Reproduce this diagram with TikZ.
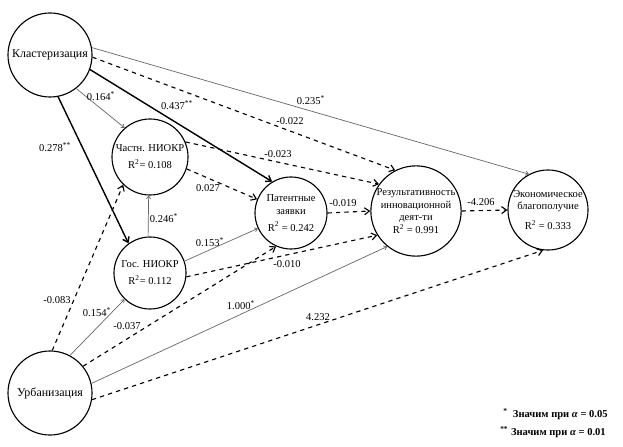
\documentclass[tikz,border=0pt]{standalone}
\usepackage{fontspec}
\setmainfont{Liberation Serif}
\usetikzlibrary{arrows.meta}
\tikzset{
  latent/.style={circle, draw, thick, align=center, inner sep=0pt,
    font=\fontsize{7.5}{9}\selectfont},
  outer/.style={latent, font=\fontsize{8.5}{10}\selectfont},
  sig/.style={-{Straight Barb[length=2pt,width=3pt]}, draw=black!60, line width=0.5pt},
  strong/.style={->, line width=1pt},
  nsig/.style={->, dashed, line width=0.8pt},
  coef/.style={font=\fontsize{7.5}{8}\selectfont, inner sep=1pt},
  legend/.style={font=\bfseries\fontsize{7.5}{8}\selectfont, anchor=west, inner sep=0pt},
  >={Straight Barb[length=3.5pt,width=5pt]},
}
\newcommand{\st}{\textsuperscript{*}}
\newcommand{\sst}{\textsuperscript{**}}

\begin{document}
\begin{tikzpicture}[x=0.025cm, y=-0.025cm]
  \useasboundingbox (0,0) rectangle (623,446);

  % constructs
  \node[outer, minimum size=2.1cm] (klast) at (50,55) {Кластеризация};
  \node[outer, minimum size=2.1cm] (urban) at (50,393) {Урбанизация};
  \node[latent, minimum size=1.9cm] (chast) at (150,157) {Частн. НИОКР\\[3pt]R\textsuperscript{2}= 0.108};
  \node[latent, minimum size=1.8cm] (gos) at (150,273) {Гос. НИОКР\\[3pt]R\textsuperscript{2}= 0.112};
  \node[latent, minimum size=1.8cm] (patent) at (291,213) {Патентные\\заявки\\[3pt]R\textsuperscript{2} = 0.242};
  \node[latent, minimum size=2.25cm] (result) at (416,211) {Результативность\\инновационной\\деят-ти\\R\textsuperscript{2} = 0.991};
  \node[latent, minimum size=2.0cm] (econ) at (548,210) {Экономическое\\благополучие\\[5pt]R\textsuperscript{2} = 0.333};

  % paths from Кластеризация
  \draw[sig] (klast.10) -- (econ.118);
  \draw[nsig] (klast.-3) -- (result.117);
  \draw[strong] (klast.-20) -- (patent.121);
  \draw[sig] (klast.-52) -- (chast.131);
  \draw[strong] (klast.-79) -- (gos.126);

  % paths from НИОКР
  \draw[nsig] (chast.23) -- (result.144);
  \draw[nsig] (chast.-18) -- (patent.158);
  \draw[sig] (gos.93) -- (chast.268);
  \draw[sig] (gos.19) -- (patent.205);
  \draw[nsig] (gos.-6) -- (result.212);

  % mediators to outcome
  \draw[nsig] (patent.0) -- (result.180);
  \draw[nsig] (result.0) -- (econ.180);

  % paths from Урбанизация
  \draw[nsig] (urban.87) -- (chast.226);
  \draw[sig] (urban.62) -- (gos.226);
  \draw[nsig] (urban.39) -- (patent.246);
  \draw[sig] (urban.13) -- (result.231);
  \draw[nsig] (urban.-9) -- (econ.263);

  % coefficients
  \node[coef] (c1) at (101,96) {0.164\st};
  \node[coef] (c2) at (177,105) {0.437\sst};
  \node[coef] (c3) at (55,147) {0.278\sst};
  \node[coef] (c4) at (311,100) {0.235\st};
  \node[coef] (c5) at (290,121) {-0.022};
  \node[coef] (c6) at (278,154) {-0.023};
  \node[coef] (c7) at (208,188) {0.027};
  \node[coef] (c8) at (164,218) {0.246\st};
  \node[coef] (c9) at (210,242) {0.153\st};
  \node[coef] (c10) at (287,264) {-0.010};
  \node[coef] (c11) at (343,203) {-0.019};
  \node[coef] (c12) at (481,202) {-4.206};
  \node[coef] (c13) at (57,300) {-0.083};
  \node[coef] (c14) at (97,312) {0.154\st};
  \node[coef] (c15) at (127,326) {-0.037};
  \node[coef] (c16) at (241,305) {1.000\st};
  \node[coef] (c17) at (318,317) {4.232};

  % legend
  \node[legend] (l1) at (503,414) {\textsuperscript{*}\ \ Значим при \textit{α} = 0.05};
  \node[legend] (l2) at (500,432) {\textsuperscript{**} Значим при \textit{α} = 0.01};
\end{tikzpicture}
\end{document}
